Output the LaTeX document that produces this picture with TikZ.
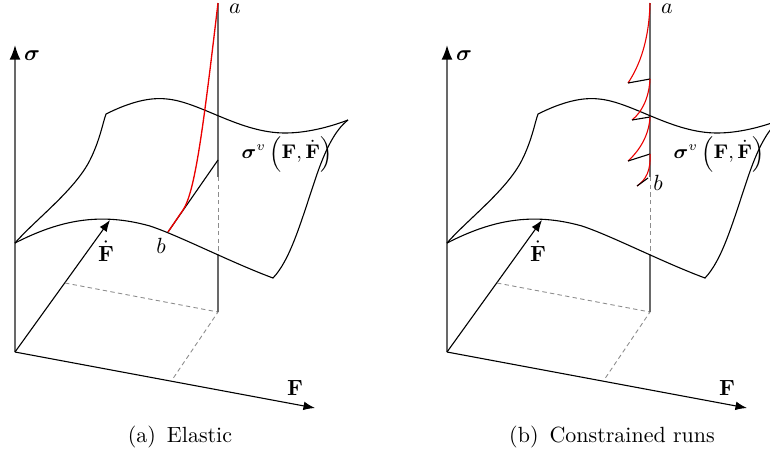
\documentclass[tikz,border=0pt]{standalone}
\usepackage{amsmath,amssymb}
\usepackage{tikz}
\usetikzlibrary{arrows.meta}
\usepackage{xcolor}
\definecolor{axisgray}{RGB}{105,105,105}
\definecolor{gridgray}{RGB}{140,140,140}
\definecolor{runred}{RGB}{235,0,0}

\begin{document}
\begin{tikzpicture}[x=0.455pt, y=-0.455pt, line width=0.5pt]
  \clip (0,0) rectangle (770,453);
  \foreach \p/\dx/\capt in {a/0/{(a)\enspace Elastic}, b/432/{(b)\enspace Constrained runs}} {
    \begin{scope}[shift={(\dx,0)}]
      % Origin
      \coordinate (O\p) at (15,352);
      % Stress axis
      \draw[axisgray, line width=0.8pt, -{Latex[black]}] (O\p) -- (15,45) coordinate (S\p);
      \node (sl\p) at (32,56) {$\boldsymbol{\sigma}$};
      % F axis
      \draw[-{Latex}] (O\p) -- (315,408) coordinate (F\p);
      \node (fl\p) at (295,388) {$\mathbf{F}$};
      % Fdot axis
      \draw[-{Latex}] (O\p) -- (110,220) coordinate (D\p);
      \node (dl\p) at (106,251) {$\dot{\mathbf{F}}$};
      % Projection to the base plane
      \coordinate (P\p) at (218,312);
      \draw[gridgray, line width=0.4pt, dash pattern=on 2pt off 1.5pt] (65,283) -- (P\p) -- (172,380);
      % Vertical through a
      \draw[axisgray, line width=0.7pt] (218,3) coordinate (A\p) -- (218,177);
      \draw[gridgray, line width=0.4pt, dash pattern=on 2pt off 1.5pt] (218,177) -- (218,255);
      \draw[axisgray, line width=0.7pt] (218,255) -- (P\p);
      \node[inner sep=1pt] (al\p) at (235,9) {$a$};
      % Surface sigma^v
      \draw (15,243) .. controls (60,220) and (100,212) .. (150,226)
        .. controls (180,236) and (230,262) .. (273,278)
        .. controls (290,260) and (300,225) .. (315,180)
        .. controls (325,150) and (335,130) .. (348,120);
      \draw (15,243) .. controls (35,220) and (75,190) .. (90,160)
        .. controls (100,140) and (103,122) .. (106,114)
        .. controls (130,102) and (150,97) .. (167,99)
        .. controls (200,102) and (240,133) .. (285,133)
        .. controls (310,133) and (335,125) .. (348,120);
      \node[font=\small] (vl\p) at (287,154)
        {$\boldsymbol{\sigma}^v\left(\mathbf{F},\dot{\mathbf{F}}\right)$};
      % Caption
      \node (cap\p) at (180,437) {\capt};
    \end{scope}
  }
  % Elastic path b -> a
  \coordinate (Ba) at (168,232);
  \draw (Ba) -- (218,160);
  \draw[runred, line width=0.6pt] (Ba) -- (183,210)
    .. controls (195,192) and (203,130) .. (Aa);
  \node (bla) at (161,246) {$b$};
  % Constrained runs
  \draw[runred] (Ab) .. controls (649,40) and (640,65) .. (628,83);
  \draw (628,83) -- (650,79);
  \draw[runred] (650,79) .. controls (649,98) and (642,112) .. (632,120);
  \draw (632,120) -- (650,117);
  \draw[runred] (650,117) .. controls (649,135) and (640,150) .. (628,161);
  \draw (628,161) -- (650,154);
  \draw[runred] (650,154) .. controls (651,170) and (646,180) .. (637,186);
  \draw (637,186) -- (648,178);
  \node (blb) at (658,183) {$b$};
\end{tikzpicture}
\end{document}
